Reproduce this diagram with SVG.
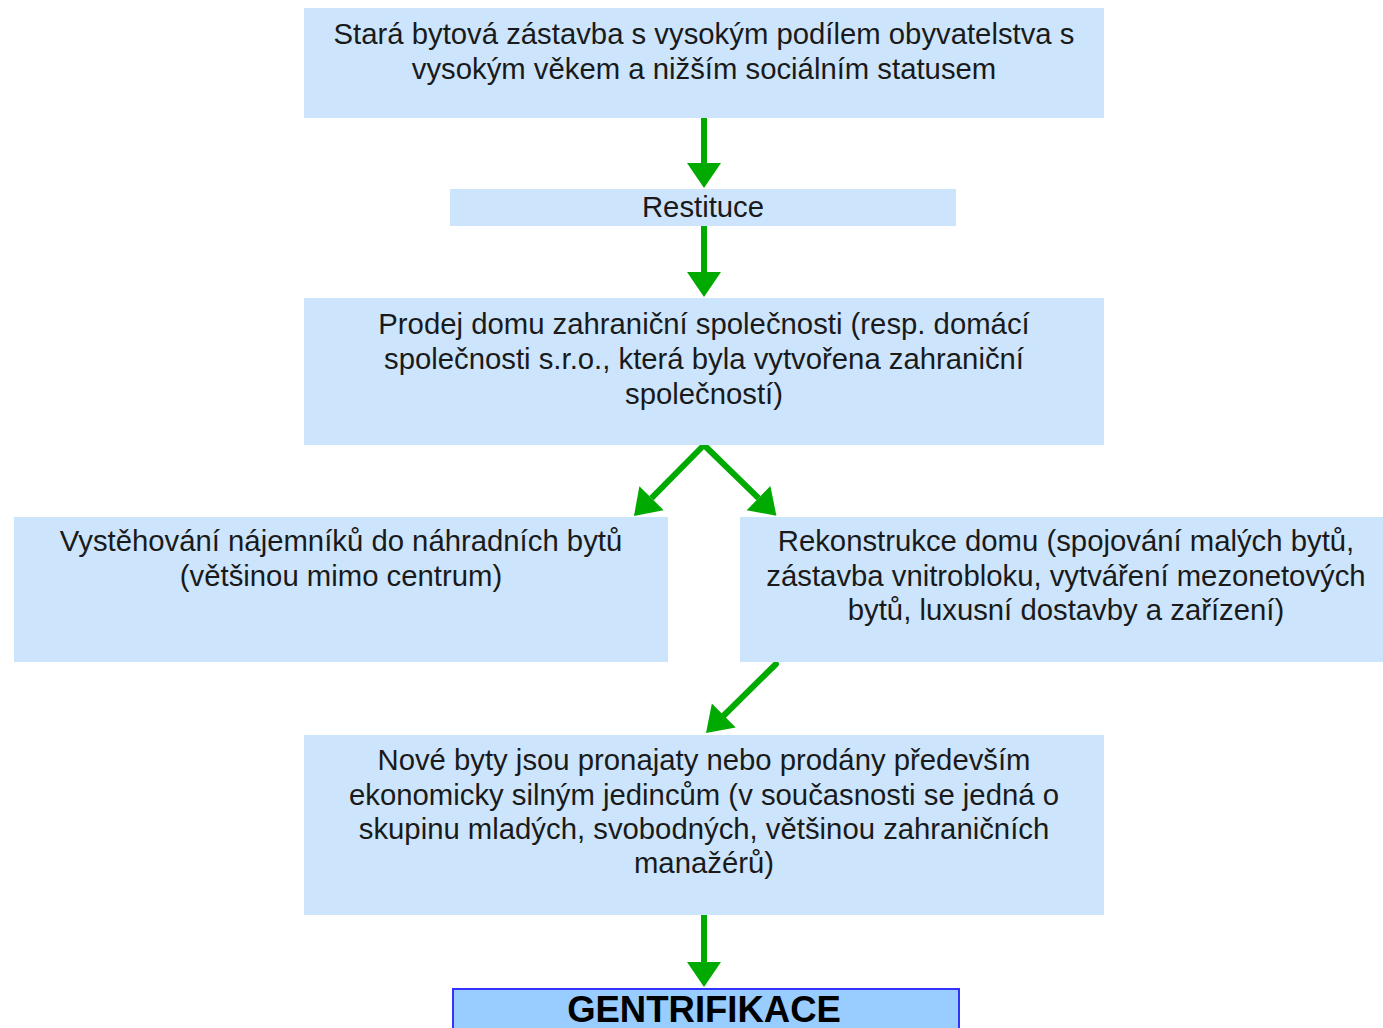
<svg xmlns="http://www.w3.org/2000/svg" width="1383" height="1028" viewBox="0 0 1383 1028">
<defs>
<style>
.box{fill:#cce5fd;}
.t{font-family:"Liberation Sans",Arial,sans-serif;font-size:29.3px;fill:#1a1a1a;text-anchor:middle;}
.b{font-family:"Liberation Sans",Arial,sans-serif;font-size:36.5px;font-weight:bold;fill:#000;text-anchor:middle;}
.c{stroke:#00aa00;stroke-width:6;fill:none;marker-end:url(#ah);}
</style>
<marker id="ah" markerUnits="userSpaceOnUse" markerWidth="26" markerHeight="34" refX="0" refY="17" orient="auto" overflow="visible">
<path d="M0,0 L25,17 L0,34 z" fill="#00aa00"/>
</marker>
</defs>
<rect width="1383" height="1028" fill="#fff"/>
<g id="connectors">
<line class="c" x1="704" y1="118" x2="704" y2="163"/>
<line class="c" x1="704" y1="226" x2="704" y2="272"/>
<line class="c" x1="704" y1="445" x2="651.5" y2="498.2"/>
<line class="c" x1="704" y1="445" x2="758.5" y2="498.2"/>
<line class="c" x1="776" y1="664" x2="723.8" y2="715.5" stroke-linecap="round"/>
<line class="c" x1="704" y1="915" x2="704" y2="962"/>
</g>
<g id="n1">
<rect class="box" x="304" y="8" width="800" height="110"/>
<text class="t" x="704" y="44">Stará bytová zástavba s vysokým podílem obyvatelstva s</text>
<text class="t" x="704" y="79">vysokým věkem a nižším sociálním statusem</text>
</g>
<g id="n2">
<rect class="box" x="450" y="189" width="506" height="37"/>
<text class="t" x="703" y="217">Restituce</text>
</g>
<g id="n3">
<rect class="box" x="304" y="298" width="800" height="147"/>
<text class="t" x="704" y="334">Prodej domu zahraniční společnosti (resp. domácí</text>
<text class="t" x="704" y="369">společnosti s.r.o., která byla vytvořena zahraniční</text>
<text class="t" x="704" y="404">společností)</text>
</g>
<g id="n4">
<rect class="box" x="14" y="517" width="654" height="145"/>
<text class="t" x="341" y="551">Vystěhování nájemníků do náhradních bytů</text>
<text class="t" x="341" y="586">(většinou mimo centrum)</text>
</g>
<g id="n5">
<rect class="box" x="740" y="517" width="643" height="145"/>
<text class="t" x="1066" y="551">Rekonstrukce domu (spojování malých bytů,</text>
<text class="t" x="1066" y="586">zástavba vnitrobloku, vytváření mezonetových</text>
<text class="t" x="1066" y="620">bytů, luxusní dostavby a zařízení)</text>
</g>
<g id="n6">
<rect class="box" x="304" y="735" width="800" height="180"/>
<text class="t" x="704" y="770">Nové byty jsou pronajaty nebo prodány především</text>
<text class="t" x="704" y="805">ekonomicky silným jedincům (v současnosti se jedná o</text>
<text class="t" x="704" y="839">skupinu mladých, svobodných, většinou zahraničních</text>
<text class="t" x="704" y="873">manažérů)</text>
</g>
<g id="n7">
<rect x="453" y="989" width="506" height="45" fill="#99ccff" stroke="#3333ff" stroke-width="2"/>
<text class="b" x="704" y="1022">GENTRIFIKACE</text>
</g>
</svg>
